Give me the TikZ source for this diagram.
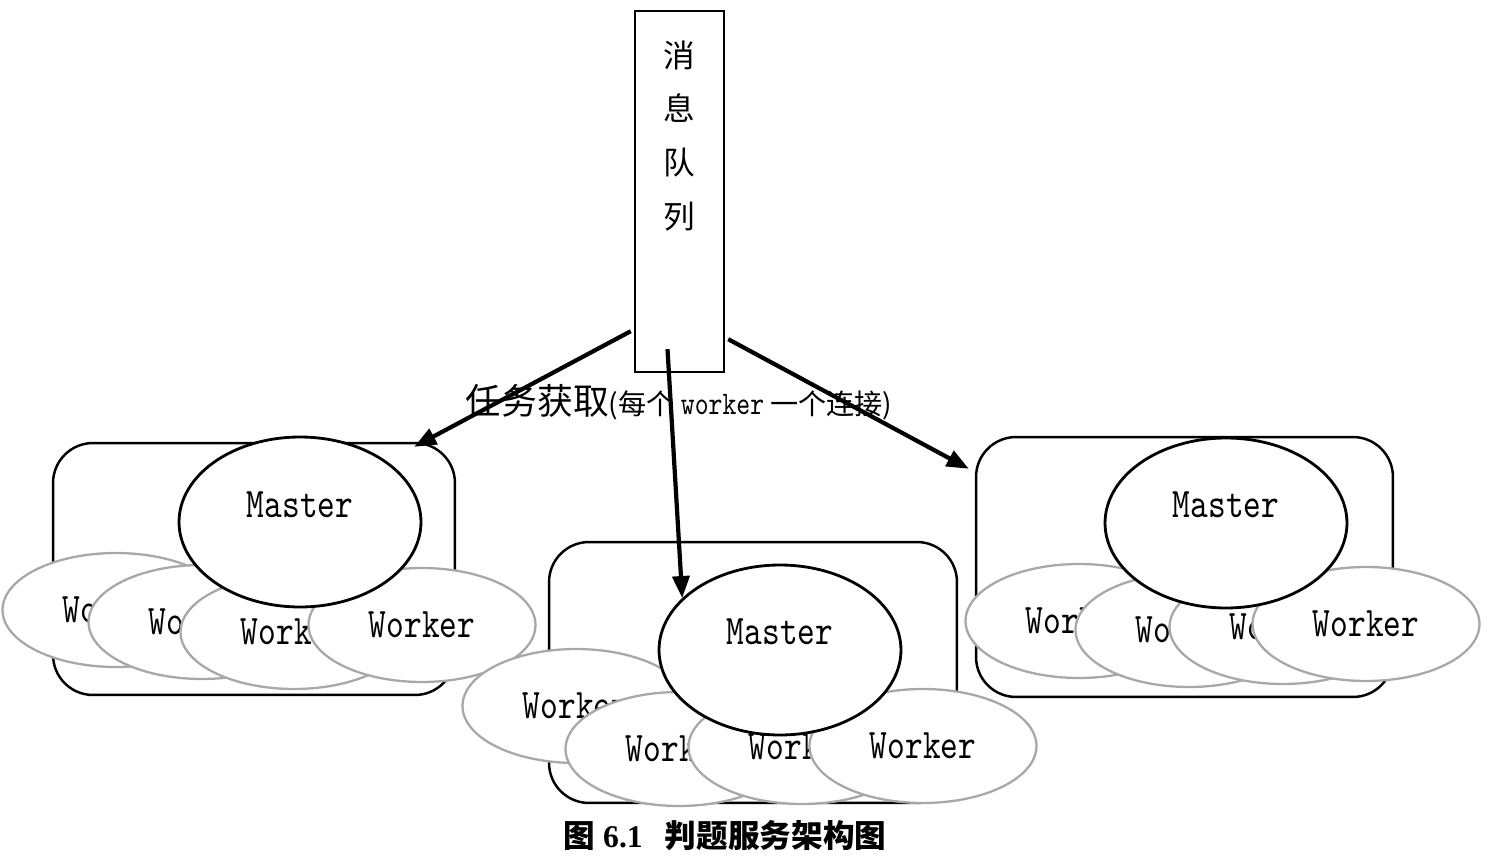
\documentclass[tikz,border=0pt]{standalone}
\usepackage{fontspec}
\newfontfamily\cjk{Noto Sans CJK SC}
\newfontfamily\tms{Liberation Serif}
\setmonofont{lmmono10-regular.otf}[FakeStretch=0.8]
\usetikzlibrary{arrows.meta,calc,shapes.geometric}
\definecolor{wkgray}{HTML}{A8A8A8}
\tikzset{
  grp/.style={draw=black, line width=1.4pt, rounded corners=0.8cm, fill=white, inner sep=0pt},
  worker/.style={ellipse, draw=wkgray, line width=1.3pt, fill=white, inner sep=0pt,
    minimum width=4.54cm, minimum height=2.28cm, font=\ttfamily\fontsize{24}{28}\selectfont},
  master/.style={ellipse, draw=black, line width=1.6pt, fill=white, inner sep=0pt,
    minimum width=4.84cm, minimum height=3.4cm},
  mlabel/.style={font=\ttfamily\fontsize{24}{28}\selectfont},
  queue/.style={draw=black, line width=1.4pt, fill=white, minimum width=1.78cm, minimum height=7.22cm, inner sep=0pt},
  conn/.style={line width=2.4pt, -{Triangle[length=0.44cm,width=0.34cm]}, shorten >=0pt}
}
\begin{document}
\begin{tikzpicture}[x=0.02cm,y=-0.02cm]
\useasboundingbox (0,0) rectangle (1502,868);
% message queue
\node[queue] (Q) at (679.5,191.5) {};
\node[font=\cjk\fontsize{18}{30.6}\selectfont, align=center, inner sep=0pt] (qtext) at ($(Q.north)+(0,126)$) {消\\息\\队\\列};

% left group
\node[grp, minimum width=8.04cm, minimum height=5.04cm] (L) at (254,569) {};
\node[worker] (L1) at (116,610) {Worker};
\node[worker] (L2) at (202,622) {Worker};
\node[worker] (L3) at (294,632) {Worker};
\node[worker] (L4) at (422,625) {Worker};
\node[master, label={[mlabel, yshift=0.34cm]center:Master}] (LM) at (300,522) {};

% middle group
\node[grp, minimum width=8.16cm, minimum height=5.22cm] (C) at (753,672.5) {};
\node[worker] (C1) at (576,706) {Worker};
\node[worker] (C2) at (679,749) {Worker};
\node[worker] (C3) at (802,747) {Worker};
\node[worker] (C4) at (923,746) {Worker};
\node[master, label={[mlabel, yshift=0.36cm]center:Master}] (CM) at (780,650) {};

% right group
\node[grp, minimum width=8.34cm, minimum height=5.2cm] (R) at (1184.5,567) {};
\node[worker] (R1) at (1079,621) {Worker};
\node[worker] (R2) at (1189,630) {Worker};
\node[worker] (R3) at (1283,627) {Worker};
\node[worker] (R4) at (1366,624) {Worker};
\node[master, label={[mlabel, yshift=0.36cm]center:Master}] (RM) at (1226,523) {};

% connectors
\coordinate (qa) at ($(Q.south west)+(-3,-42)$);
\coordinate (qb) at ($(Q.south)+(-12,-24)$);
\coordinate (qc) at ($(Q.south east)+(3,-34)$);
\coordinate (la) at ($(L.north east)+(-42,5)$);
\coordinate (ra) at ($(R.north west)+(-6,33)$);
\draw[conn] (qa) -- (la);
\draw[conn] (qb) -- (CM.152);
\draw[conn] (qc) -- (ra);

% connector label
\node[inner sep=0pt, anchor=base] (lab) at (679,415) {{\cjk\fontsize{20.4}{24}\selectfont 任务获取}{\cjk\fontsize{16}{19}\selectfont (每个 }{\ttfamily\fontsize{18.8}{21}\selectfont worker}{\cjk\fontsize{16}{19}\selectfont{} 一个连接)}};

% caption
\node[inner sep=0pt, font=\bfseries\fontsize{18}{22}\selectfont] (cap) at (725,836) {{\cjk 图}\hspace{0.25em}{\tms 6.1}\hspace{0.7em}{\cjk 判题服务架构图}};
\end{tikzpicture}
\end{document}
